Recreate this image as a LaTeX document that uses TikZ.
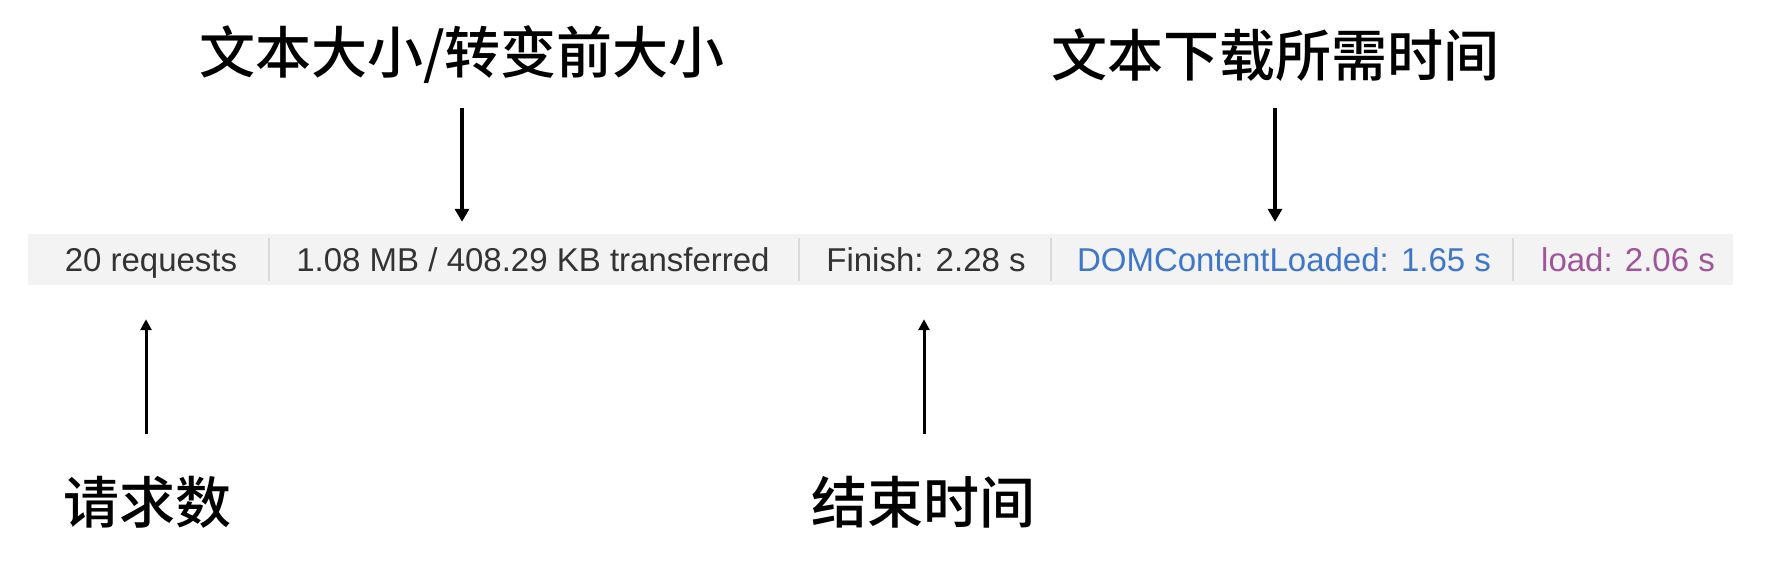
\documentclass[tikz,border=0pt]{standalone}
\usepackage{fontspec}
\setmainfont{Liberation Sans}
\newfontfamily\cjkb{Noto Sans CJK SC Medium}
\usetikzlibrary{arrows.meta}
\definecolor{bargray}{HTML}{F3F3F3}
\definecolor{sepgray}{HTML}{DADADA}
\definecolor{txtgray}{HTML}{333333}
\definecolor{domblue}{HTML}{3E76C9}
\definecolor{loadpurple}{HTML}{A0559A}
\tikzset{
  bartext/.style={anchor=base, inner sep=0pt, font=\fontsize{33}{38}\selectfont, text=txtgray},
  label/.style={inner sep=0pt, font=\cjkb\fontsize{56}{62}\selectfont, text=black},
  sepline/.style={draw=sepgray, line width=1.5pt},
  arrdown/.style={draw=black, line width=4.3pt, -{Triangle[width=14pt,length=13pt]}},
  arrup/.style={draw=black, line width=3pt, -{Triangle[width=11pt,length=11pt]}}
}
\begin{document}
\begin{tikzpicture}[x=1pt,y=-1pt]
\useasboundingbox (0,0) rectangle (1788,562);
\fill[white] (0,0) rectangle (1788,562);
\node[fill=bargray, draw=none, minimum width=1705pt, minimum height=51pt, inner sep=0pt] (bar) at (880.5,259.5) {};
\draw[sepline] (269,238) -- (269,281);
\draw[sepline] (799,238) -- (799,281);
\draw[sepline] (1051,238) -- (1051,281);
\draw[sepline] (1513,238) -- (1513,281);
\node[bartext] (t1) at (151,271) {20 requests};
\node[bartext] (t2) at (533,271) {1.08 MB / 408.29 KB transferred};
\node[bartext] (t3) at (926,271) {Finish: 2.28 s};
\node[bartext, text=domblue] (t4) at (1284,271) {DOMContentLoaded: 1.65 s};
\node[bartext, text=loadpurple] (t5) at (1628,271) {load: 2.06 s};
\node[label] (L1) at (462,55) {文本大小/转变前大小};
\node[label] (L2) at (1275,55) {文本下载所需时间};
\node[label] (L3) at (147,502) {请求数};
\node[label] (L4) at (923,502) {结束时间};
\coordinate (a1) at (462,108);
\coordinate (a2) at (1275,108);
\coordinate (a3) at (146,434);
\coordinate (a4) at (924,434);
\draw[arrdown, shorten >=12pt] (a1) -- (a1 |- bar.north);
\draw[arrdown, shorten >=12pt] (a2) -- (a2 |- bar.north);
\draw[arrup, shorten >=34pt] (a3) -- (a3 |- bar.south);
\draw[arrup, shorten >=34pt] (a4) -- (a4 |- bar.south);
\end{tikzpicture}
\end{document}
